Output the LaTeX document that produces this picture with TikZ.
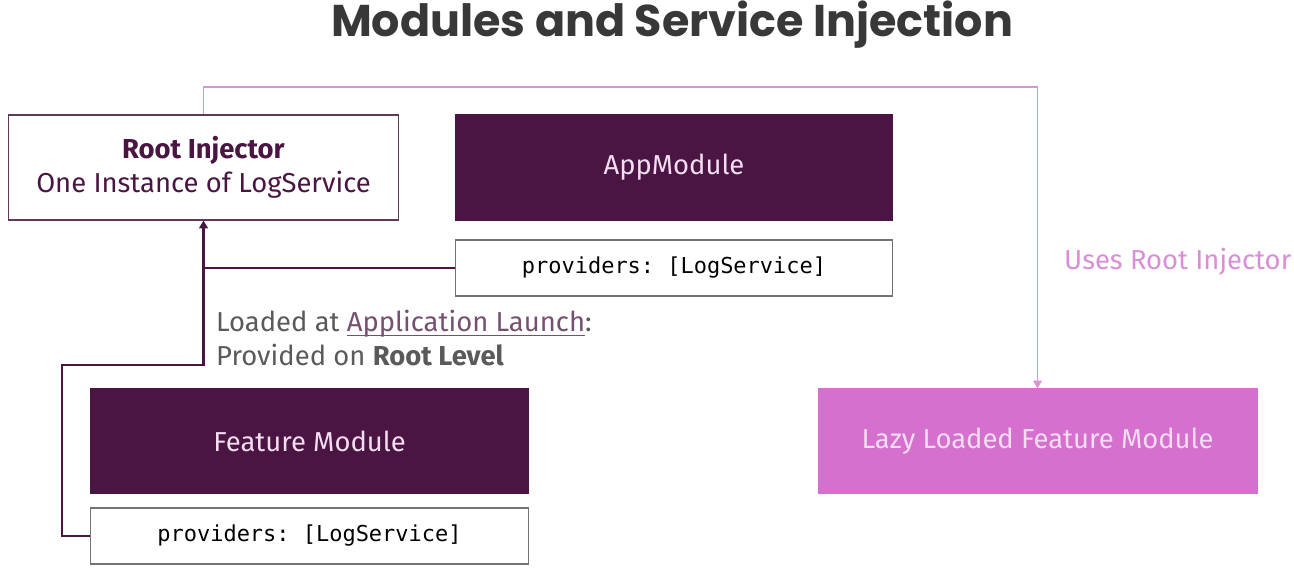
\documentclass[tikz,border=0pt]{standalone}
\usepackage{fontspec}
\setmainfont{Fira Sans}
\setmonofont{DejaVu Sans Mono}
\newfontfamily\ttlfont{Poppins}
\usepackage{xcolor}
\usetikzlibrary{arrows.meta,positioning,calc}

\definecolor{plum}{HTML}{4A1542}
\definecolor{orchid}{HTML}{D670CF}
\definecolor{lilac}{HTML}{D994D4}
\definecolor{lilactxt}{HTML}{D98FD5}
\definecolor{paletxt}{HTML}{F3DDF0}
\definecolor{rootline}{HTML}{5E3A58}
\definecolor{graytxt}{HTML}{5A5A5A}

\newsavebox\lnkbox
\newcommand\lnk[1]{\sbox\lnkbox{#1}\rlap{\raisebox{-2.2pt}{\rule{\wd\lnkbox}{0.6pt}}}\usebox\lnkbox}

\begin{document}
\begin{tikzpicture}[
  x=0.02cm, y=-0.02cm,
  font=\fontsize{15.6}{18}\selectfont,
  box/.style={draw, line width=0.6pt, align=center, inner sep=2pt, minimum width=8.78cm},
  darkbox/.style={box, draw=plum, fill=plum, text=paletxt, minimum height=2.08cm},
  provbox/.style={box, draw=black!55, fill=white, minimum height=1.12cm,
    font=\ttfamily\fontsize{12.5}{15}\selectfont},
  plumline/.style={draw=plum, line width=1.2pt},
  pinkline/.style={draw=lilac, line width=0.8pt},
  tip/.style={-{Triangle[width=5pt,length=4.5pt]}}
]
\useasboundingbox (0,0) rectangle (1294,574);

% ==================== TITLE ====================
\node[font=\ttlfont\bfseries\fontsize{25.3}{30}\selectfont, text=black!78, anchor=base] (title) at (672,37) {Modules and Service Injection};

% ==================== ROOT + APP MODULE ====================
\node[box, draw=rootline, text=plum, minimum width=7.82cm, minimum height=2.1cm,
  font=\fontsize{15.6}{19.5}\selectfont] (root) at (203.5,167.5)
  {\textbf{Root Injector}\\One Instance of LogService};
\node[darkbox, minimum width=8.76cm, minimum height=2.1cm] (appmod) at (674,167.5) {AppModule};
\node[provbox, minimum width=8.76cm] (appprov) at (674,268) {providers: [LogService]};

% ==================== FEATURE MODULE ====================
\node[darkbox] (featmod) at (309.5,441) {Feature Module};
\node[provbox] (featprov) at (309.5,536) {providers: [LogService]};

% ==================== LAZY MODULE ====================
\node[darkbox, draw=orchid, fill=orchid] (lazymod) at (1037.5,441) {Lazy Loaded Feature Module};

% labels
\node[anchor=west, text=lilactxt] (uses) at (1058,262) {Uses Root Injector};
\node[anchor=west, align=left, text=graytxt, font=\fontsize{15.6}{19}\selectfont] (loaded) at (210,338)
  {Loaded at \textcolor{plum!75}{\lnk{Application Launch}}:\\Provided on \textbf{Root Level}};

% ==================== CONNECTORS ====================
\coordinate (bend) at (62,365);
\coordinate (top) at (620,87);
\draw[plumline, tip] (featprov.west) -| (bend) -| (root.south);
\draw[plumline] (appprov.west) -- (appprov.west -| root.south);
\draw[pinkline, tip] (root.north) |- (top) -| (lazymod.north);

\end{tikzpicture}
\end{document}
